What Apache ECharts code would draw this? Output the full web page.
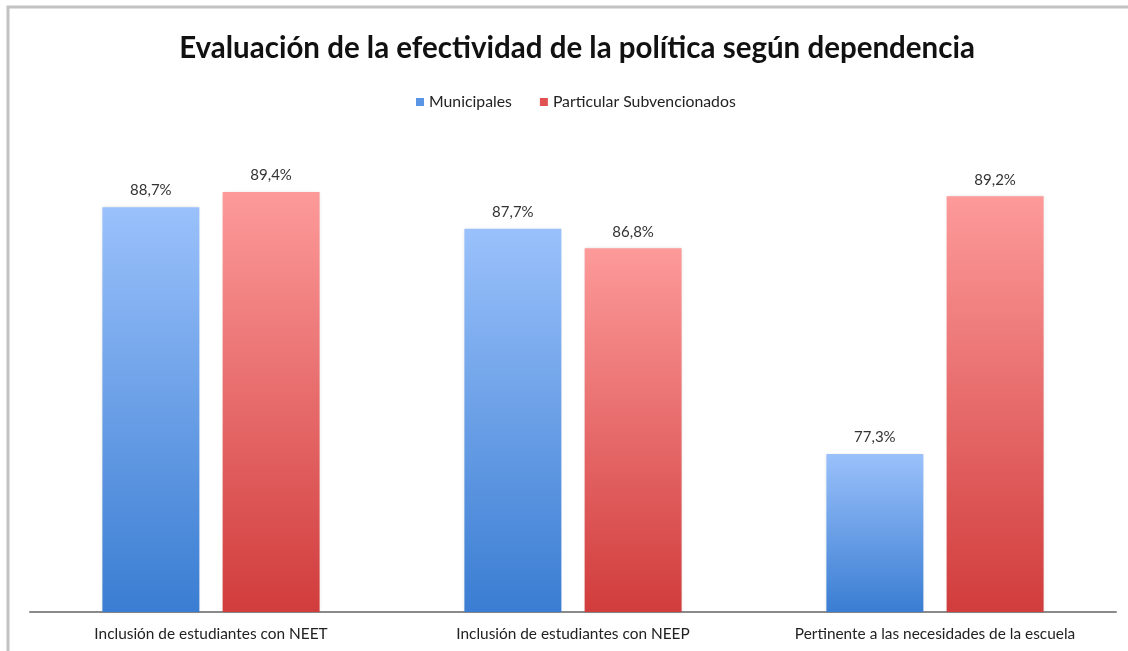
<!DOCTYPE html>
<html>
<head>
<meta charset="utf-8">
<script src="https://cdn.jsdelivr.net/npm/echarts@6/dist/echarts.min.js"></script>
<style>
  html, body { margin: 0; padding: 0; background: #fff; }
  #chart { width: 1128px; height: 651px; }
</style>
</head>
<body>
<div id="chart"></div>
<script>
// Evaluación de la efectividad de la política según dependencia
const categories = [
  'Inclusión de estudiantes con NEET',
  'Inclusión de estudiantes con NEEP',
  'Pertinente a las necesidades de la escuela'
];
const municipales = [88.7, 87.7, 77.3];
const subvencionados = [89.4, 86.8, 89.2];
const seriesNames = ['Municipales', 'Particular Subvencionados'];

const FONT = 'Lato, "Open Sans", sans-serif';

function grad(top, bottom) {
  return new echarts.graphic.LinearGradient(0, 0, 0, 1, [
    { offset: 0, color: top },
    { offset: 1, color: bottom }
  ]);
}

const labelFmt = p => p.value.toFixed(1).replace('.', ',') + '%';

const chart = echarts.init(document.getElementById('chart'), null, { renderer: 'canvas' });
chart.setOption({
  backgroundColor: '#ffffff',
  animation: false,
  title: {
    text: 'Evaluación de la efectividad de la política según dependencia',
    left: 572, top: 28, textAlign: 'center',
    textStyle: { fontFamily: FONT, fontSize: 29.5, fontWeight: 'bold', color: '#111' }
  },
  legend: {
    data: [
      { name: seriesNames[0], itemStyle: { color: '#5b95e6' } },
      { name: seriesNames[1], itemStyle: { color: '#e05252' } }
    ],
    left: 411, top: 89,
    itemWidth: 8, itemHeight: 8, itemGap: 28,
    icon: 'rect',
    textStyle: { fontFamily: FONT, fontSize: 15.8, color: '#222' }
  },
  grid: { left: 30, right: 12, top: 179, bottom: 39, containLabel: false },
  xAxis: {
    type: 'category',
    data: categories,
    axisLine: { show: true, lineStyle: { color: '#8a8a8a', width: 2 } },
    axisTick: { show: false },
    axisLabel: { interval: 0, fontFamily: FONT, fontSize: 15.4, color: '#222', margin: 15 }
  },
  yAxis: {
    type: 'value', min: 70, max: 90, interval: 5,
    show: false
  },
  series: [
    {
      name: seriesNames[0], type: 'bar', data: municipales,
      barGap: '24%', barCategoryGap: '40%',
      itemStyle: { color: grad('#9ac1fb', '#3a7dd2'), shadowColor: 'rgba(0,0,0,0.12)', shadowBlur: 3 },
      label: { show: true, position: 'top', distance: 9, formatter: labelFmt,
               fontFamily: FONT, fontSize: 15, color: '#333' }
    },
    {
      name: seriesNames[1], type: 'bar', data: subvencionados,
      itemStyle: { color: grad('#fd9a9a', '#d13c3c'), shadowColor: 'rgba(0,0,0,0.12)', shadowBlur: 3 },
      label: { show: true, position: 'top', distance: 9, formatter: labelFmt,
               fontFamily: FONT, fontSize: 15, color: '#333' }
    }
  ],
  graphic: [
    {
      type: 'rect', silent: true, z: -1,
      shape: { x: 8, y: 7, width: 1300, height: 800 },
      style: { fill: null, stroke: '#c2c2c2', lineWidth: 3 }
    }
  ]
});
</script>
</body>
</html>
